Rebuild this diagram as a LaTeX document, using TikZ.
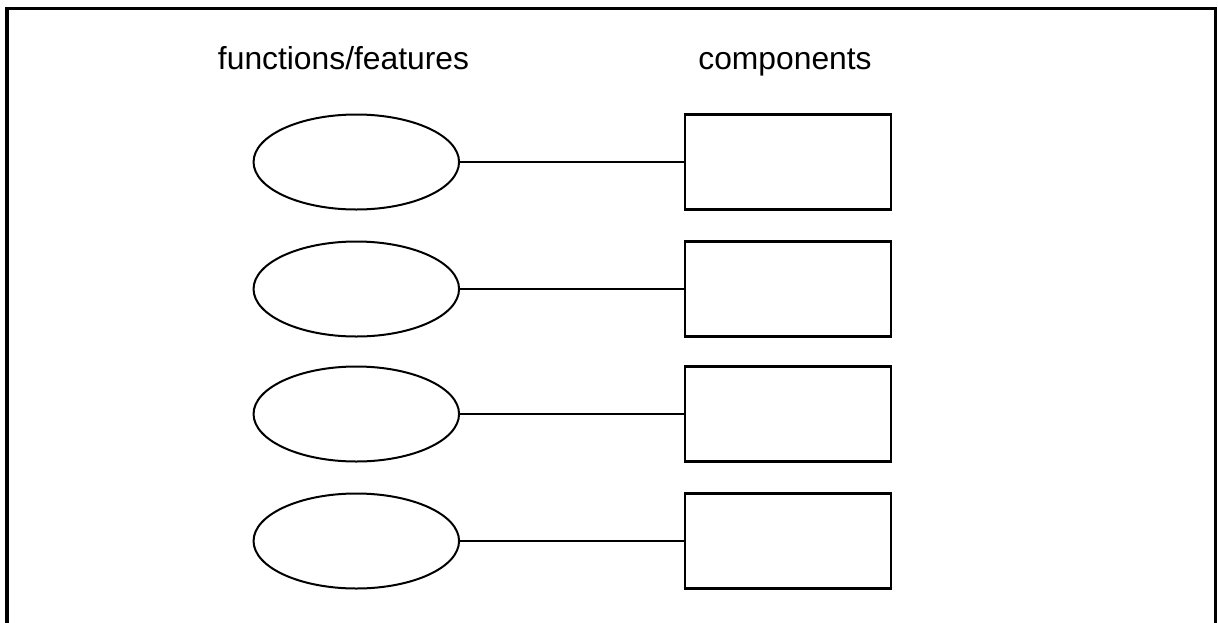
\documentclass[tikz,border=0pt]{standalone}
\usepackage{fontspec}
\setmainfont{Liberation Sans}
\usetikzlibrary{shapes.geometric}
\begin{document}
\begin{tikzpicture}[x=1pt,y=-1pt,
  feat/.style={draw,ellipse,line width=2pt,inner sep=0pt,minimum width=205.5pt,minimum height=95pt},
  comp/.style={draw,rectangle,line width=2.2pt,inner sep=0pt,minimum width=205.4pt,minimum height=95pt},
  link/.style={line width=1.8pt},
  heading/.style={font=\fontsize{31.8}{36}\selectfont,anchor=base,inner sep=0pt}]
\useasboundingbox (0,0) rectangle (1218,622);
\draw[line width=3.5pt] (7,640) -- (7,8.5) -- (1215.5,8.5) -- (1215.5,640);
\node[heading] (hf) at (343.5,69) {functions/features};
\node[heading] (hc) at (785,69) {components};
\foreach \i/\y in {1/162,2/289,3/414,4/541}{
  \node[feat] (f\i) at (356.3,\y) {};
  \node[comp] (c\i) at (788,\y) {};
  \draw[link] (f\i.east) -- (c\i.west);
}
\end{tikzpicture}
\end{document}
